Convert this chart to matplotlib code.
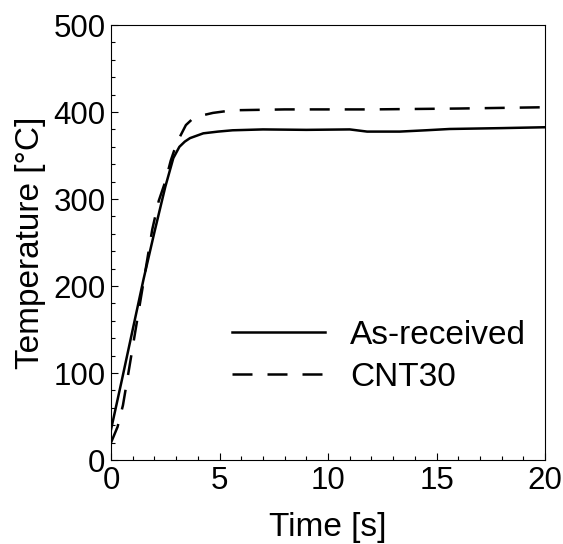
import matplotlib.pyplot as plt
from matplotlib.ticker import MultipleLocator

plt.rcParams["font.family"] = ["Liberation Sans", "DejaVu Sans"]

# As-received sample
time_asrec = [0, 0.5, 1.0, 1.5, 2.0, 2.5, 2.87, 3.15, 3.4, 3.64, 4.25, 4.93,
              5.6, 7, 9, 11, 11.8, 13.3, 14.5, 15.6, 18, 20]
temp_asrec = [35, 92, 150, 208, 262, 314, 347, 360, 366, 370, 375.5, 377.5,
              379, 380, 379.5, 380, 377.5, 377.5, 379, 380.5, 381.5, 382.5]

# CNT30 sample
time_cnt = [0, 0.3, 0.55, 0.8, 1.0, 1.5, 1.9, 2.2, 2.5, 2.75, 2.9, 3.1, 3.45,
            3.75, 4.0, 4.7, 5.6, 8, 12, 16, 20]
temp_cnt = [20, 38, 63, 100, 130, 205, 265, 298, 320, 344, 355, 368, 385,
            392, 395, 399, 402, 403, 403, 404, 405.5]

labels = ["As-received", "CNT30"]

fig = plt.figure(figsize=(5.63, 5.44), dpi=100)
ax = fig.add_axes([0.1972, 0.1544, 0.771, 0.7996])

ax.plot(time_asrec, temp_asrec, color="black", lw=1.8, label=labels[0])
ax.plot(time_cnt, temp_cnt, color="black", lw=1.8, ls=(0, (8, 6)), label=labels[1])

ax.set_xlim(0, 20)
ax.set_ylim(0, 500)
ax.xaxis.set_major_locator(MultipleLocator(5))
ax.xaxis.set_minor_locator(MultipleLocator(1))
ax.yaxis.set_major_locator(MultipleLocator(100))
ax.yaxis.set_minor_locator(MultipleLocator(20))
ax.tick_params(which="both", direction="in", labelsize=22.5, width=0.8)
ax.tick_params(which="major", length=5, pad=4)
ax.tick_params(which="minor", length=3)
for s in ax.spines.values():
    s.set_linewidth(0.8)

ax.set_xlabel("Time [s]", fontsize=24, labelpad=12)
ax.set_ylabel("Temperature [°C]", fontsize=24, labelpad=5)

ax.legend(frameon=False, fontsize=24, loc="center left",
          bbox_to_anchor=(0.278, 0.238), borderpad=0, borderaxespad=0,
          handlelength=2.8, handletextpad=0.75, labelspacing=0.32)

fig.savefig("out.png", dpi=100)
